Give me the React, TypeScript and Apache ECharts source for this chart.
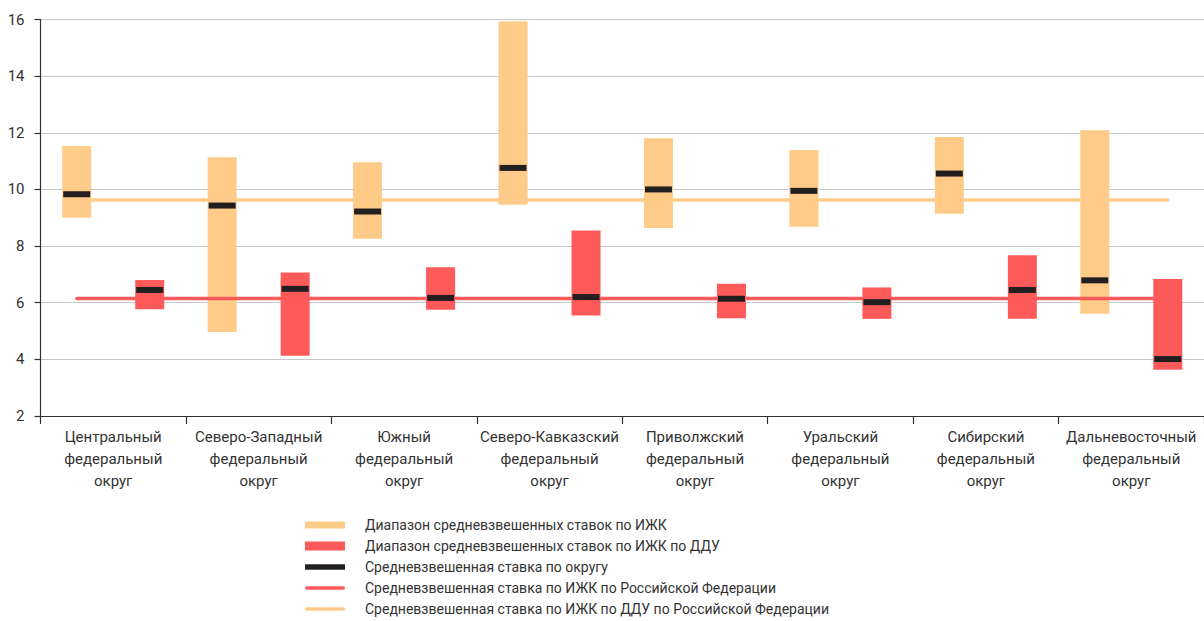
import React, { useEffect, useRef } from "react";
import * as echarts from "echarts";

const categories = [
  "Центральный\nфедеральный\nокруг",
  "Северо-Западный\nфедеральный\nокруг",
  "Южный\nфедеральный\nокруг",
  "Северо-Кавказский\nфедеральный\nокруг",
  "Приволжский\nфедеральный\nокруг",
  "Уральский\nфедеральный\nокруг",
  "Сибирский\nфедеральный\nокруг",
  "Дальневосточный\nфедеральный\nокруг",
];
const izhkMin = [9.0, 4.97, 8.26, 9.46, 8.64, 8.68, 9.14, 5.61];
const izhkMax = [11.53, 11.14, 10.96, 15.94, 11.81, 11.39, 11.85, 12.09];
const dduMin = [5.77, 4.13, 5.75, 5.55, 5.45, 5.43, 5.43, 3.63];
const dduMax = [6.8, 7.07, 7.25, 8.55, 6.67, 6.54, 7.68, 6.84];
const izhkMean = [9.83, 9.43, 9.22, 10.76, 10.0, 9.95, 10.56, 6.79];
const dduMean = [6.45, 6.49, 6.17, 6.2, 6.14, 6.02, 6.45, 4.01];
const rfIzhkRate = 6.15;
const rfIzhkDduRate = 9.63;
const yTicks = { min: 2, max: 16, interval: 2 };

const N1 = "Диапазон средневзвешенных ставок по ИЖК";
const N2 = "Диапазон средневзвешенных ставок по ИЖК по ДДУ";
const N3 = "Средневзвешенная ставка по округу";
const N4 = "Средневзвешенная ставка по ИЖК по Российской Федерации";
const N5 = "Средневзвешенная ставка по ИЖК по ДДУ по Российской Федерации";

const YELLOW = "#FECB88";
const RED = "#FF5A5A";
const BLACK = "#231F20";
const FONT = "Roboto";

const LINE_ICON =
  "path://M0,0M0,10M1.75,3.25H38.25A1.75,1.75 0 0 1 38.25,6.75H1.75A1.75,1.75 0 0 1 1.75,3.25Z";

export default function App() {
  const ref = useRef<HTMLDivElement>(null);
  useEffect(() => {
    if (!ref.current) return;
    const chart = echarts.init(ref.current, undefined, { renderer: "svg" });
    const slots = Array.from({ length: categories.length * 2 }, (_, i) => String(i));
    const lastSlot = slots.length - 1;
    chart.setOption({
      animation: false,
      backgroundColor: "#fff",
      textStyle: { fontFamily: FONT },
      grid: { left: 40.5, top: 19.5, right: -4.5, bottom: 205 },
      xAxis: [
        {
          type: "category",
          data: categories,
          boundaryGap: true,
          axisLine: { show: true, lineStyle: { color: "#333", width: 1.2 } },
          axisTick: { show: true, length: 8, lineStyle: { color: "#333", width: 1.2 } },
          axisLabel: {
            interval: 0,
            color: "#333",
            fontSize: 15,
            fontFamily: FONT,
            lineHeight: 22,
            margin: 10,
          },
        },
        {
          type: "category",
          data: slots,
          boundaryGap: true,
          show: false,
        },
      ],
      yAxis: {
        type: "value",
        min: yTicks.min,
        max: yTicks.max,
        interval: yTicks.interval,
        axisLine: { show: true, lineStyle: { color: "#333", width: 1.2 } },
        axisTick: { show: true, length: 6, lineStyle: { color: "#333", width: 1.2 } },
        axisLabel: { color: "#333", fontSize: 15, fontFamily: FONT, margin: 16 },
        splitLine: { show: true, lineStyle: { color: "#c8c8c8", width: 1 } },
      },
      legend: {
        orient: "vertical",
        left: 300,
        top: 513,
        height: 300,
        itemWidth: 40,
        itemHeight: 10,
        itemGap: 7,
        selectedMode: false,
        textStyle: { fontSize: 14, color: "#333", fontFamily: FONT, padding: [0, 0, 0, 15] },
        data: [
          { name: N1, icon: "path://M0,0M0,10M0,1.5H40V8.5H0Z" },
          { name: N2, icon: "path://M0,0M0,10M0,0.5H40V9.5H0Z" },
          { name: N3, icon: "path://M0,0M0,10M0,2.2H40V7.8H0Z" },
          { name: N4, icon: LINE_ICON, itemStyle: { color: RED } },
          { name: N5, icon: LINE_ICON, itemStyle: { color: YELLOW } },
        ],
      },
      series: [
        {
          name: "baseIzhk",
          type: "bar",
          stack: "izhk",
          barWidth: 29,
          barGap: "151.7%",
          itemStyle: { color: "transparent" },
          data: izhkMin,
          z: 2,
          silent: true,
        },
        {
          name: N1,
          type: "bar",
          stack: "izhk",
          barWidth: 29,
          itemStyle: { color: YELLOW },
          data: izhkMax.map((v, i) => +(v - izhkMin[i]).toFixed(2)),
          z: 2,
        },
        {
          name: "baseDdu",
          type: "bar",
          stack: "ddu",
          barWidth: 29,
          itemStyle: { color: "transparent" },
          data: dduMin,
          z: 2,
          silent: true,
        },
        {
          name: N2,
          type: "bar",
          stack: "ddu",
          barWidth: 29,
          itemStyle: { color: RED },
          data: dduMax.map((v, i) => +(v - dduMin[i]).toFixed(2)),
          z: 2,
        },
        {
          name: N4,
          type: "line",
          xAxisIndex: 1,
          symbol: "none",
          showSymbol: false,
          lineStyle: { color: RED, width: 3.5, cap: "round" },
          itemStyle: { color: RED },
          data: [
            [0, rfIzhkRate],
            [lastSlot, rfIzhkRate],
          ],
          z: 3,
        },
        {
          name: N5,
          type: "line",
          xAxisIndex: 1,
          symbol: "none",
          showSymbol: false,
          lineStyle: { color: YELLOW, width: 3.5, cap: "round" },
          itemStyle: { color: YELLOW },
          data: [
            [0, rfIzhkDduRate],
            [lastSlot, rfIzhkDduRate],
          ],
          z: 3,
        },
        {
          name: N3,
          type: "scatter",
          symbol: "rect",
          symbolSize: [27, 6],
          symbolOffset: [-36.5, 0],
          itemStyle: { color: BLACK, opacity: 1 },
          data: izhkMean,
          z: 4,
        },
        {
          name: N3,
          type: "scatter",
          symbol: "rect",
          symbolSize: [27, 6],
          symbolOffset: [36.5, 0],
          itemStyle: { color: BLACK, opacity: 1 },
          data: dduMean,
          z: 4,
        },
      ],
    });
    return () => chart.dispose();
  }, []);
  return (
    <div
      ref={ref}
      style={{ position: "fixed", left: 0, top: 0, width: 1204, height: 621, background: "#fff" }}
    />
  );
}
